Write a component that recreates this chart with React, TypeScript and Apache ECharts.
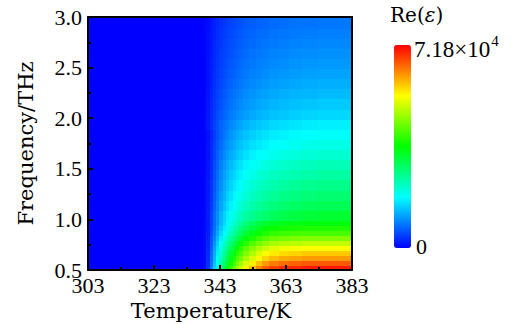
import React, { useEffect, useRef } from 'react';
import * as echarts from 'echarts';

// Temperature cell edges (K) and frequency cell edges (THz)
const tempEdges = [303, 338, 339, 340, 341, 342, 343, 344, 345, 346, 347, 348, 349, 350, 352, 354, 356, 358, 361, 364, 368, 373, 383];
const freqEdges = [0.5, 0.55, 0.6, 0.65, 0.7, 0.75, 0.8, 0.85, 0.9, 0.95, 1.0, 1.1, 1.2, 1.3, 1.4, 1.5, 1.6, 1.7, 1.8, 1.9, 2.0, 2.1, 2.2, 2.3, 2.4, 2.5, 2.6, 2.7, 2.8, 2.9, 3.0];

// Re(eps) in units of 10^4, one row per frequency cell (low -> high), one entry per temperature cell
const reValues = [
  [0, 0.07, 0.35, 0.91, 1.47, 2.03, 2.59, 3.08, 3.5, 3.92, 4.34, 4.69, 5.04, 5.46, 5.88, 6.23, 6.51, 6.72, 6.86, 6.93, 7.0, 7.0],
  [0, 0.07, 0.33, 0.85, 1.38, 1.9, 2.42, 2.88, 3.28, 3.67, 4.06, 4.39, 4.72, 5.11, 5.5, 5.83, 6.09, 6.29, 6.42, 6.48, 6.55, 6.55],
  [0, 0.06, 0.31, 0.79, 1.28, 1.77, 2.26, 2.68, 3.05, 3.42, 3.78, 4.09, 4.39, 4.76, 5.12, 5.43, 5.67, 5.86, 5.98, 6.04, 6.1, 6.1],
  [0, 0.06, 0.29, 0.75, 1.21, 1.67, 2.13, 2.53, 2.88, 3.22, 3.57, 3.85, 4.14, 4.49, 4.83, 5.12, 5.35, 5.52, 5.64, 5.69, 5.75, 5.75],
  [0, 0.05, 0.27, 0.7, 1.13, 1.57, 2.0, 2.38, 2.7, 3.02, 3.35, 3.62, 3.89, 4.21, 4.54, 4.81, 5.02, 5.18, 5.29, 5.35, 5.4, 5.4],
  [0, 0.05, 0.25, 0.64, 1.04, 1.44, 1.83, 2.18, 2.48, 2.77, 3.07, 3.32, 3.56, 3.86, 4.16, 4.41, 4.6, 4.75, 4.85, 4.9, 4.95, 4.95],
  [0, 0.05, 0.23, 0.59, 0.95, 1.31, 1.67, 1.98, 2.25, 2.52, 2.79, 3.02, 3.24, 3.51, 3.78, 4.01, 4.19, 4.32, 4.41, 4.46, 4.5, 4.5],
  [0, 0.04, 0.21, 0.53, 0.86, 1.19, 1.52, 1.8, 2.05, 2.3, 2.54, 2.75, 2.95, 3.2, 3.44, 3.65, 3.81, 3.94, 4.02, 4.06, 4.1, 4.1],
  [0, 0.04, 0.19, 0.49, 0.8, 1.1, 1.41, 1.67, 1.9, 2.13, 2.36, 2.55, 2.74, 2.96, 3.19, 3.38, 3.53, 3.65, 3.72, 3.76, 3.8, 3.8],
  [0, 0.04, 0.18, 0.46, 0.74, 1.02, 1.3, 1.54, 1.75, 1.96, 2.17, 2.35, 2.52, 2.73, 2.94, 3.12, 3.26, 3.36, 3.43, 3.47, 3.5, 3.5],
  [0, 0.03, 0.2, 0.46, 0.75, 1.01, 1.27, 1.5, 1.69, 1.85, 2.02, 2.15, 2.28, 2.44, 2.6, 2.73, 2.84, 2.96, 3.06, 3.14, 3.2, 3.25],
  [0, 0.03, 0.18, 0.42, 0.69, 0.93, 1.17, 1.38, 1.56, 1.71, 1.86, 1.98, 2.1, 2.25, 2.4, 2.52, 2.63, 2.73, 2.82, 2.9, 2.96, 3.0],
  [0, 0.03, 0.17, 0.39, 0.64, 0.87, 1.09, 1.29, 1.46, 1.6, 1.74, 1.85, 1.96, 2.1, 2.24, 2.35, 2.45, 2.55, 2.63, 2.7, 2.76, 2.8],
  [0, 0.03, 0.16, 0.37, 0.6, 0.81, 1.02, 1.21, 1.36, 1.49, 1.62, 1.73, 1.83, 1.97, 2.1, 2.2, 2.29, 2.38, 2.46, 2.53, 2.58, 2.62],
  [0, 0.02, 0.15, 0.34, 0.56, 0.76, 0.96, 1.13, 1.27, 1.4, 1.52, 1.62, 1.72, 1.84, 1.96, 2.06, 2.14, 2.23, 2.3, 2.36, 2.41, 2.45],
  [0, 0.02, 0.14, 0.32, 0.53, 0.71, 0.9, 1.06, 1.2, 1.31, 1.43, 1.52, 1.61, 1.73, 1.84, 1.93, 2.01, 2.09, 2.16, 2.22, 2.27, 2.3],
  [0, 0.02, 0.13, 0.3, 0.49, 0.66, 0.83, 0.98, 1.1, 1.21, 1.31, 1.4, 1.48, 1.59, 1.7, 1.78, 1.86, 1.93, 1.99, 2.05, 2.09, 2.12],
  [0, 0.02, 0.12, 0.28, 0.45, 0.61, 0.77, 0.91, 1.02, 1.12, 1.22, 1.3, 1.38, 1.48, 1.58, 1.65, 1.72, 1.79, 1.85, 1.9, 1.94, 1.97],
  [0, 0.02, 0.11, 0.26, 0.42, 0.57, 0.71, 0.84, 0.95, 1.04, 1.13, 1.21, 1.28, 1.37, 1.46, 1.54, 1.6, 1.67, 1.72, 1.77, 1.8, 1.83],
  [0, 0.03, 0.17, 0.32, 0.46, 0.57, 0.69, 0.79, 0.88, 0.96, 1.03, 1.1, 1.17, 1.25, 1.34, 1.4, 1.45, 1.52, 1.57, 1.62, 1.66, 1.69],
  [0, 0.03, 0.15, 0.29, 0.41, 0.52, 0.62, 0.71, 0.79, 0.87, 0.93, 0.99, 1.05, 1.12, 1.2, 1.26, 1.31, 1.37, 1.41, 1.46, 1.49, 1.52],
  [0, 0.03, 0.14, 0.27, 0.38, 0.48, 0.58, 0.67, 0.74, 0.81, 0.87, 0.92, 0.98, 1.05, 1.12, 1.18, 1.22, 1.28, 1.32, 1.36, 1.39, 1.42],
  [0, 0.03, 0.13, 0.25, 0.36, 0.45, 0.54, 0.62, 0.69, 0.75, 0.81, 0.86, 0.91, 0.98, 1.04, 1.1, 1.14, 1.19, 1.23, 1.27, 1.29, 1.32],
  [0, 0.02, 0.12, 0.23, 0.33, 0.42, 0.5, 0.58, 0.64, 0.7, 0.75, 0.8, 0.85, 0.91, 0.97, 1.02, 1.06, 1.11, 1.14, 1.18, 1.21, 1.23],
  [0, 0.02, 0.12, 0.22, 0.31, 0.39, 0.47, 0.54, 0.6, 0.66, 0.7, 0.75, 0.79, 0.85, 0.91, 0.95, 0.99, 1.04, 1.07, 1.1, 1.13, 1.15],
  [0, 0.02, 0.11, 0.21, 0.29, 0.37, 0.44, 0.51, 0.56, 0.62, 0.66, 0.7, 0.75, 0.8, 0.85, 0.9, 0.93, 0.97, 1.0, 1.04, 1.06, 1.08],
  [0, 0.02, 0.1, 0.19, 0.28, 0.35, 0.42, 0.48, 0.53, 0.58, 0.62, 0.66, 0.7, 0.75, 0.81, 0.85, 0.88, 0.92, 0.95, 0.98, 1.0, 1.02],
  [0, 0.02, 0.1, 0.18, 0.26, 0.33, 0.39, 0.45, 0.5, 0.55, 0.59, 0.62, 0.66, 0.71, 0.76, 0.8, 0.83, 0.86, 0.89, 0.92, 0.94, 0.96],
  [0, 0.02, 0.09, 0.17, 0.24, 0.31, 0.37, 0.42, 0.47, 0.51, 0.55, 0.59, 0.62, 0.67, 0.71, 0.75, 0.77, 0.81, 0.84, 0.86, 0.88, 0.9],
  [0, 0.02, 0.08, 0.16, 0.23, 0.29, 0.34, 0.39, 0.44, 0.48, 0.51, 0.55, 0.58, 0.62, 0.66, 0.7, 0.72, 0.76, 0.78, 0.81, 0.82, 0.84],
];

const tempMin = 303;
const tempMax = 383;
const tempStep = 20;
const freqMin = 0.5;
const freqMax = 3.0;
const freqStep = 0.5;
const colorMin = 0;
const colorMax = 7.18;
const rainbow = ['#0000ff', '#00ffff', '#00ff00', '#ffff00', '#ff0000'];
const xTitle = 'Temperature/K';
const yTitle = 'Frequency/THz';
const barMaxMantissa = '7.18×10';
const barMaxExponent = '4';
const barMinLabel = '0';

const numFont = 'Liberation Serif';
const titleFont = 'DejaVu Serif';

export default function App() {
  const ref = useRef<HTMLDivElement>(null);
  useEffect(() => {
    if (!ref.current) return;
    document.body.style.margin = '0';
    const chart = echarts.init(ref.current, null, { renderer: 'svg' });
    const cells: number[][] = [];
    for (let r = 0; r < reValues.length; r++) {
      for (let c = 0; c < reValues[r].length; c++) {
        cells.push([tempEdges[c], tempEdges[c + 1], freqEdges[r], freqEdges[r + 1], reValues[r][c]]);
      }
    }
    const axisLineStyle = { color: '#000', width: 2 };
    chart.setOption({
      animation: false,
      grid: {
        left: 88, top: 17, width: 264, height: 253,
        outerBoundsMode: 'none', containLabel: false,
        show: true, backgroundColor: '#0000ff', borderWidth: 0,
      },
      xAxis: [
        {
          type: 'value', min: tempMin, max: tempMax, interval: tempStep, z: 10,
          axisLine: { lineStyle: axisLineStyle },
          axisTick: { inside: true, length: 5, lineStyle: { width: 2, color: '#000' } },
          minorTick: { show: true, splitNumber: 2, length: 3, lineStyle: { width: 2, color: '#000' } },
          splitLine: { show: false },
          axisLabel: { fontFamily: numFont, fontSize: 22, lineHeight: 14, color: '#000', margin: 8 },
          name: xTitle, nameLocation: 'middle', nameGap: 26,
          nameTextStyle: { fontFamily: titleFont, fontSize: 21, color: '#000', padding: [0, 18, 0, 0] },
        },
        {
          type: 'value', position: 'top', min: tempMin, max: tempMax, z: 10,
          axisLine: { show: true, lineStyle: axisLineStyle },
          axisTick: { show: false }, axisLabel: { show: false }, splitLine: { show: false },
        },
      ],
      yAxis: [
        {
          type: 'value', min: freqMin, max: freqMax, interval: freqStep, z: 10,
          axisLine: { show: true, lineStyle: axisLineStyle },
          axisTick: { inside: true, length: 5, lineStyle: { width: 2, color: '#000' } },
          minorTick: { show: true, splitNumber: 2, length: 3, lineStyle: { width: 2, color: '#000' } },
          splitLine: { show: false },
          axisLabel: { fontFamily: numFont, fontSize: 22, lineHeight: 13, color: '#000', margin: 6, formatter: (v: number) => v.toFixed(1) },
          name: yTitle, nameLocation: 'middle', nameGap: 52, nameRotate: 90,
          nameTextStyle: { fontFamily: titleFont, fontSize: 21, color: '#000' },
        },
        {
          type: 'value', position: 'right', min: freqMin, max: freqMax, z: 10,
          axisLine: { show: true, lineStyle: axisLineStyle },
          axisTick: { show: false }, axisLabel: { show: false }, splitLine: { show: false },
        },
      ],
      visualMap: {
        type: 'continuous',
        min: colorMin, max: colorMax,
        dimension: 4, seriesIndex: 0,
        orient: 'vertical',
        left: 394, top: 45,
        itemWidth: 17, itemHeight: 203,
        padding: 0,
        calculable: false,
        hoverLink: false,
        inRange: { color: rainbow },
      },
      series: [
        {
          type: 'custom',
          clip: true,
          encode: { x: [0, 1], y: [2, 3] },
          data: cells,
          renderItem: (params: any, api: any) => {
            const p0 = api.coord([api.value(0), api.value(3)]);
            const p1 = api.coord([api.value(1), api.value(2)]);
            const x0 = Math.floor(p0[0]);
            const y0 = Math.floor(p0[1]);
            return {
              type: 'rect',
              shape: { x: x0, y: y0, width: Math.ceil(p1[0]) - x0 + 1, height: Math.ceil(p1[1]) - y0 + 1 },
              style: { fill: api.visual('color'), stroke: null },
            };
          },
        },
      ],
      graphic: [
        {
          type: 'text', left: 390, top: 5,
          style: {
            text: '{a|Re(}{b|ε}{a|)}',
            rich: {
              a: { fontFamily: titleFont, fontSize: 20, fill: '#000' },
              b: { fontFamily: titleFont, fontSize: 20, fontStyle: 'italic', fill: '#000' },
            },
          },
        },
        {
          type: 'text', left: 414, top: 33,
          style: {
            text: '{a|' + barMaxMantissa + '}{s|' + barMaxExponent + '}',
            rich: {
              a: { fontFamily: numFont, fontSize: 23, fill: '#000', lineHeight: 28, verticalAlign: 'bottom' },
              s: { fontFamily: numFont, fontSize: 15, fill: '#000', lineHeight: 28, verticalAlign: 'top', padding: [0, 0, 0, 1] },
            },
          },
        },
        {
          type: 'text', x: 416, y: 246,
          style: {
            text: barMinLabel, fontFamily: numFont, fontSize: 22, fill: '#000',
            verticalAlign: 'middle', align: 'left',
          },
        },
      ],
    });
    return () => chart.dispose();
  }, []);
  return <div ref={ref} style={{ width: 520, height: 324 }} />;
}
